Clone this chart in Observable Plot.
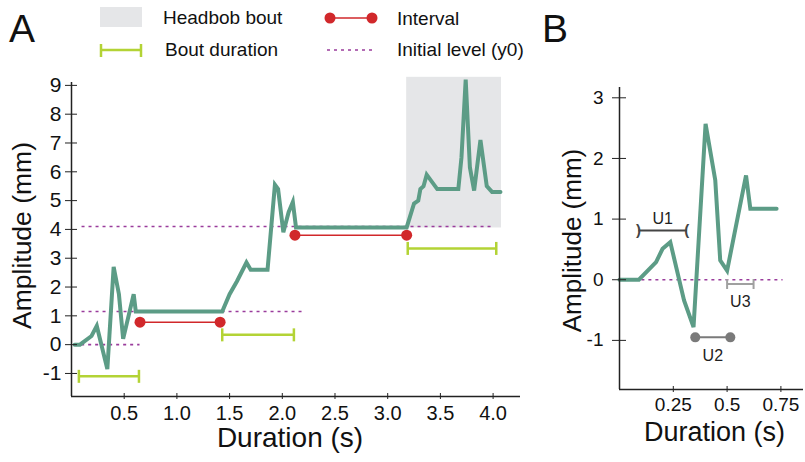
<!DOCTYPE html>
<html><head><meta charset="utf-8">
<script src="https://cdn.jsdelivr.net/npm/d3@7"></script>
<script src="https://cdn.jsdelivr.net/npm/@observablehq/plot@0.6"></script>
<style>
body{margin:0;background:#fff;font-family:"Liberation Sans",Arial,sans-serif;}
#wrap{position:relative;width:805px;height:462px;overflow:hidden;background:#fff;}
#wrap > *{position:absolute;}
.panel{font-size:39px;color:#111;line-height:1;}
</style></head><body><div id="wrap"></div>
<script>
// ---------- Panel A data ----------
const traceAx = [0.03,0.08,0.19,0.24,0.34,0.40,0.45,0.49,0.59,0.61,1.43,1.50,1.57,1.66,1.70,1.86,1.93,1.96,2.01,2.06,2.10,2.13,3.18,3.25,3.29,3.31,3.34,3.37,3.47,3.67,3.70,3.74,3.78,3.82,3.88,3.94,3.99,4.07];
const traceAy = [0,0,0.3,0.65,-0.85,2.7,1.75,0.2,1.75,1.15,1.15,1.75,2.2,2.85,2.6,2.6,5.55,5.4,3.9,4.6,4.95,4.07,4.07,4.9,5.0,5.4,5.5,5.9,5.4,5.4,6.5,9.2,6.15,5.35,7.1,5.5,5.3,5.3];
// headbob bout shaded region
const boutX1 = [3.18], boutX2 = [4.08], boutY1 = [4.05], boutY2 = [9.28];
// initial levels (y0)
const y0Level = [0, 1.15, 4.1];
const y0Start = [0.03, 0.1, 0.1];
const y0End = [0.65, 2.19, 3.99];
// intervals
const intStart = [0.65, 2.12];
const intEnd = [1.41, 3.18];
const intY = [0.78, 3.8];
// bout durations
const durStart = [0.07, 1.43, 3.19];
const durEnd = [0.64, 2.11, 4.03];
const durY = [-1.1, 0.34, 3.34];
const xTicksA = [0.5,1.0,1.5,2.0,2.5,3.0,3.5,4.0];
const yTicksA = [-1,0,1,2,3,4,5,6,7,8,9];
const xDomainA = [0, 4.26], yDomainA = [-1.8, 9.1];

// ---------- Panel B data ----------
const traceBx = [0,0.09,0.17,0.2,0.236,0.30,0.344,0.40,0.445,0.468,0.50,0.588,0.608,0.73];
const traceBy = [0,0,0.29,0.51,0.62,-0.34,-0.78,2.57,1.64,0.32,0.15,1.72,1.17,1.17];
const y0B = [0], y0BStart = [0.104], y0BEnd = [0.76];
const unitNames = ["U1","U2","U3"];
const unitStart = [0.088, 0.352, 0.50];
const unitEnd = [0.313, 0.515, 0.623];
const unitY = [0.81, -0.95, -0.07];
const unitColor = ["#444444","#7a7a7a","#a0a0a0"];
const unitLabelY = [1.0, -1.25, -0.37];
const xTicksB = [0.25,0.5,0.75];
const yTicksB = [-1,0,1,2,3];
const xDomainB = [0, 0.855], yDomainB = [-1.81, 3.17];

const GREEN = "#5c9c86", RED = "#d1282b", LIME = "#b3d335", PURPLE = "#9a3c9c", GREYBOX = "#e5e6e8", AX = "#222";
const vbar = {draw(ctx, size){const h = Math.sqrt(size/Math.PI); ctx.moveTo(0,-h); ctx.lineTo(0,h);}};

const wrap = document.getElementById("wrap");
const fontFamily = "'Liberation Sans', Arial, sans-serif";

// table builders
const tr = (xs, ys) => xs.map((x,i)=>({x, y: ys[i]}));
const trA = tr(traceAx, traceAy);
const y0A = y0Level.map((y,i)=>({y, x1: y0Start[i], x2: y0End[i]}));
const ints = intY.map((y,i)=>({y, x1: intStart[i], x2: intEnd[i]}));
const intPts = ints.flatMap(d=>[{x:d.x1,y:d.y},{x:d.x2,y:d.y}]);
const durs = durY.map((y,i)=>({y, x1: durStart[i], x2: durEnd[i]}));
const durPts = durs.flatMap(d=>[{x:d.x1,y:d.y},{x:d.x2,y:d.y}]);
const bout = boutX1.map((x1,i)=>({x1, x2: boutX2[i], y1: boutY1[i], y2: boutY2[i]}));

const plotA = Plot.plot({
  width: 540, height: 462,
  marginLeft: 71, marginRight: 20, marginTop: 82, marginBottom: 66,
  style: {background: "transparent", fontFamily, color: AX},
  x: {domain: xDomainA}, y: {domain: yDomainA},
  marks: [
    Plot.rect(bout, {x1:"x1", x2:"x2", y1:"y1", y2:"y2", fill: GREYBOX}),
    Plot.ruleY(y0A, {y:"y", x1:"x1", x2:"x2", stroke: PURPLE, strokeWidth: 1.6, strokeDasharray: "3,4"}),
    Plot.line(trA, {x:"x", y:"y", stroke: GREEN, strokeWidth: 4, strokeLinejoin: "miter", strokeMiterlimit: 4}),
    Plot.link(ints, {x1:"x1", x2:"x2", y1:"y", y2:"y", stroke: RED, strokeWidth: 1.5}),
    Plot.dot(intPts, {x:"x", y:"y", r: 5.5, fill: RED}),
    Plot.link(durs, {x1:"x1", x2:"x2", y1:"y", y2:"y", stroke: LIME, strokeWidth: 2.5}),
    Plot.dot(durPts, {x:"x", y:"y", r: 6.5, symbol: vbar, stroke: LIME, strokeWidth: 2.5, fill: "none"}),
    Plot.ruleX([xDomainA[0]], {stroke: AX, strokeWidth: 1.5}),
    Plot.ruleY([yDomainA[0]], {stroke: AX, strokeWidth: 1.5}),
    Plot.axisY({ticks: yTicksA, tickFormat: d=>String(d), tickSize: 12, dx: 6, tickPadding: 4, fontSize: 21, label: null, stroke: AX, fill: "#111"}),
    Plot.axisX({ticks: xTicksA, tickFormat: d=>d.toFixed(1), tickSize: 6, dy: -3, tickPadding: 6, fontSize: 20, label: null, stroke: AX, fill: "#111"}),
    Plot.text(["Amplitude (mm)"], {text: d=>d, frameAnchor: "left", textAnchor: "middle", rotate: -90, dx: -49, dy: -4, fontSize: 26.5, fill: "#111"}),
    Plot.text(["Duration (s)"], {text: d=>d, frameAnchor: "bottom", dy: 50, dx: -6, fontSize: 28, fill: "#111"})
  ]
});
plotA.style.left = "0px"; plotA.style.top = "0px";
wrap.appendChild(plotA);

const trB = tr(traceBx, traceBy);
const y0Bd = y0B.map((y,i)=>({y, x1: y0BStart[i], x2: y0BEnd[i]}));
const units = unitNames.map((n,i)=>({name: n, x1: unitStart[i], x2: unitEnd[i], y: unitY[i], c: unitColor[i], ly: unitLabelY[i], xm: (unitStart[i]+unitEnd[i])/2}));

const plotB = Plot.plot({
  width: 265, height: 462,
  marginLeft: 79, marginRight: 2, marginTop: 87, marginBottom: 73,
  style: {background: "transparent", fontFamily, color: AX},
  x: {domain: xDomainB}, y: {domain: yDomainB},
  marks: [
    Plot.ruleY(y0Bd, {y:"y", x1:"x1", x2:"x2", stroke: PURPLE, strokeWidth: 1.6, strokeDasharray: "3,4"}),
    Plot.line(trB, {x:"x", y:"y", stroke: GREEN, strokeWidth: 4, strokeLinejoin: "miter", strokeMiterlimit: 4}),
    Plot.link(units, {x1:"x1", x2:"x2", y1:"y", y2:"y", stroke: "c", strokeWidth: 2}),
    Plot.text([units[0]], {x:"x1", y:"y", text: ()=>")", fill: "c", fontSize: 15, fontWeight: "bold"}),
    Plot.text([units[0]], {x:"x2", y:"y", text: ()=>"(", fill: "c", fontSize: 15, fontWeight: "bold"}),
    Plot.dot([units[1]], {x:"x1", y:"y", r: 5, fill: "c"}),
    Plot.dot([units[1]], {x:"x2", y:"y", r: 5, fill: "c"}),
    Plot.dot([units[2]], {x:"x1", y:"y", r: 5, symbol: vbar, stroke: "c", strokeWidth: 2, fill: "none"}),
    Plot.dot([units[2]], {x:"x2", y:"y", r: 5, symbol: vbar, stroke: "c", strokeWidth: 2, fill: "none"}),
    Plot.text(units, {x:"xm", y:"ly", text:"name", fill: "#222", fontSize: 16}),
    Plot.ruleX([xDomainB[0]], {stroke: AX, strokeWidth: 1.5}),
    Plot.ruleY([yDomainB[0]], {stroke: AX, strokeWidth: 1.5}),
    Plot.axisY({ticks: yTicksB, tickFormat: d=>String(d), tickSize: 14, dx: 7, tickPadding: 9, fontSize: 19, label: null, stroke: AX, fill: "#111"}),
    Plot.axisX({ticks: xTicksB, tickFormat: d=>String(d), tickSize: 6, dy: -3, tickPadding: 5, fontSize: 19, label: null, stroke: AX, fill: "#111"}),
    Plot.text(["Amplitude (mm)"], {text: d=>d, frameAnchor: "left", textAnchor: "middle", rotate: -90, dx: -47, dy: 2, fontSize: 26, fill: "#111"}),
    Plot.text(["Duration (s)"], {text: d=>d, frameAnchor: "bottom", dy: 51, dx: 3, fontSize: 27, fill: "#111"})
  ]
});
plotB.style.left = "540px"; plotB.style.top = "0px";
wrap.appendChild(plotB);

// ---------- legend ----------
const leg = d3.create("svg").attr("width", 560).attr("height", 70)
  .style("left","0px").style("top","0px").style("font-family", fontFamily);
leg.append("rect").attr("x",100).attr("y",7).attr("width",42).attr("height",20).attr("fill",GREYBOX);
leg.append("text").attr("x",163).attr("y",24).attr("font-size",19).attr("fill","#111").text("Headbob bout");
leg.append("line").attr("x1",101).attr("x2",141).attr("y1",50).attr("y2",50).attr("stroke",LIME).attr("stroke-width",2.5);
leg.append("line").attr("x1",101).attr("x2",101).attr("y1",44).attr("y2",57).attr("stroke",LIME).attr("stroke-width",2.5);
leg.append("line").attr("x1",141).attr("x2",141).attr("y1",44).attr("y2",57).attr("stroke",LIME).attr("stroke-width",2.5);
leg.append("text").attr("x",165).attr("y",56).attr("font-size",19).attr("fill","#111").text("Bout duration");
leg.append("line").attr("x1",330).attr("x2",372).attr("y1",18).attr("y2",18).attr("stroke",RED).attr("stroke-width",1.5);
leg.append("circle").attr("cx",330).attr("cy",18).attr("r",5.5).attr("fill",RED);
leg.append("circle").attr("cx",372).attr("cy",18).attr("r",5.5).attr("fill",RED);
leg.append("text").attr("x",397).attr("y",25).attr("font-size",19).attr("fill","#111").text("Interval");
leg.append("line").attr("x1",327).attr("x2",376).attr("y1",50).attr("y2",50).attr("stroke",PURPLE).attr("stroke-width",1.5).attr("stroke-dasharray","3,4");
leg.append("text").attr("x",397).attr("y",56).attr("font-size",19).attr("fill","#111").text("Initial level (y0)");
wrap.appendChild(leg.node());

const la = document.createElement("div"); la.className="panel"; la.textContent="A";
la.style.left="9px"; la.style.top="9px"; wrap.appendChild(la);
const lb = document.createElement("div"); lb.className="panel"; lb.textContent="B";
lb.style.left="542px"; lb.style.top="9px"; wrap.appendChild(lb);
</script></body></html>
